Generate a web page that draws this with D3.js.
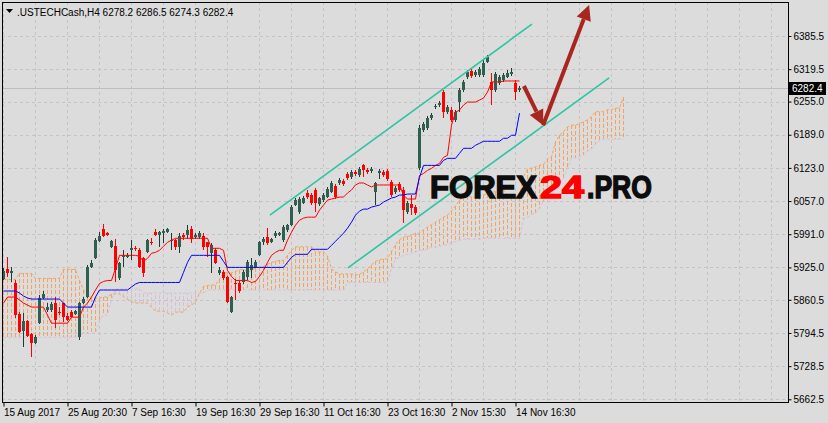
<!DOCTYPE html>
<html>
<head>
<meta charset="utf-8">
<script src="https://cdn.jsdelivr.net/npm/d3@7"></script>
<style>
  body { margin: 0; background: #dcdcdc; }
  svg { display: block; font-family: "Liberation Sans", Arial, sans-serif; }
</style>
</head>
<body>
<script>
// ---- chart data ----
var symbol = ".USTECHCash,H4";
var lastQuote = [6278.2, 6286.5, 6274.3, 6282.4];

var priceTicks = [6385.5, 6319.5, 6255.0, 6189.0, 6123.0, 6057.0, 5991.0, 5925.0, 5860.5, 5794.5, 5728.5, 5662.5];
var dateLabels = ["15 Aug 2017", "25 Aug 20:30", "7 Sep 16:30", "19 Sep 16:30", "29 Sep 16:30",
                  "11 Oct 16:30", "23 Oct 16:30", "2 Nov 15:30", "14 Nov 16:30"];

var opens = [5902,5922,5914,5894,5832,5798,5818,5792,5774,5814,5864,5840,5840,5854,5836,5854,5828,5836,5832,5786,
  5854,5866,5926,5944,5978,6001,5993,5966,5968,5904,5946,5946,5960,5964,5960,5944,5956,5976,5995,5989,
  5993,5995,5978,5980,5966,5989,5989,6001,5985,5985,5987,5976,5954,5960,5914,5916,5906,5836,5894,5894,
  5896,5906,5920,5926,5950,5976,5986,5976,5988,5990,5980,5999,6009,6049,6035,6053,6073,6069,6079,6051,
  6059,6065,6075,6087,6093,6097,6111,6105,6115,6109,6129,6119,6117,6075,6113,6115,6117,6095,6075,6091,
  6079,6035,6051,6045,6123,6198,6202,6222,6244,6248,6274,6234,6238,6218,6254,6278,6304,6316,6308,6308,
  6308,6334,6294,6278,6292,6298,6304,6310,6292,6278.2];
var highs = [5924,5946,5926,5900,5836,5834,5820,5794,5790,5870,5878,5854,5856,5866,5846,5854,5834,5840,5840,5856,
  5866,5930,5940,5984,5996,6011,5995,5980,5982,5936,5960,5954,5980,5968,5964,5946,5982,5984,6001,5997,
  6001,6003,5993,5982,5993,5993,6009,6007,5993,5997,5993,5976,5974,5964,5926,5920,5908,5868,5902,5900,
  5920,5940,5944,5940,5978,5986,6003,5984,5998,5996,6010,6011,6049,6063,6065,6067,6079,6073,6083,6065,
  6073,6085,6097,6091,6103,6101,6115,6119,6119,6125,6131,6123,6125,6095,6121,6119,6121,6099,6087,6095,
  6085,6057,6069,6049,6208,6214,6226,6232,6250,6256,6278,6248,6244,6238,6282,6298,6318,6320,6318,6324,
  6338,6348,6312,6314,6308,6312,6318,6322,6298,6286.5];
var lows = [5900,5906,5896,5824,5794,5767,5786,5747,5773,5812,5862,5836,5836,5804,5830,5816,5818,5824,5830,5780,
  5852,5864,5924,5942,5976,5986,5987,5964,5896,5900,5926,5944,5940,5958,5924,5906,5954,5970,5987,5966,
  5974,5993,5960,5960,5954,5980,5982,5974,5982,5982,5960,5946,5914,5932,5910,5900,5854,5834,5860,5874,
  5892,5900,5904,5924,5948,5970,5970,5974,5984,5988,5976,5995,6007,6047,6031,6051,6061,6049,6035,6047,
  6055,6063,6073,6061,6089,6087,6099,6101,6107,6105,6105,6111,6113,6049,6101,6105,6097,6065,6071,6075,
  6013,6031,6029,6029,6119,6194,6198,6218,6240,6244,6222,6230,6214,6214,6234,6274,6300,6302,6304,6304,
  6304,6332,6248,6274,6288,6294,6302,6306,6258,6274.3];
var closes = [5918,5914,5918,5830,5796,5818,5788,5774,5786,5864,5872,5846,5852,5820,5834,5826,5820,5826,5838,5854,
  5862,5926,5934,5980,5988,5988,5989,5978,5920,5934,5950,5950,5964,5962,5926,5914,5980,5974,5989,5995,
  5997,6001,5980,5966,5987,5985,5999,5982,5989,5993,5966,5966,5970,5934,5920,5904,5856,5866,5892,5878,
  5916,5936,5930,5936,5976,5982,5974,5982,5994,5994,6006,6009,6045,6059,6061,6063,6065,6053,6053,6063,
  6069,6081,6093,6065,6099,6091,6103,6115,6111,6121,6119,6115,6121,6093,6117,6109,6101,6069,6083,6079,
  6039,6053,6043,6033,6202,6210,6222,6228,6246,6252,6234,6244,6218,6234,6278,6294,6314,6306,6314,6320,
  6332,6344,6278,6310,6304,6308,6312,6314,6274,6282.4];

// Ichimoku lines as seen on the chart
var tenkan = [5854,5866,5866,5866,5860,5854,5850,5846,5846,5846,5846,5830,5814,5814,5814,5814,5814,5826,5826,5826,
  5846,5854,5866,5880,5893,5897,5899,5899,5923,5949,5949,5949,5949,5949,5947,5937,5943,5953,5955,5959,
  5967,5975,5979,5983,5983,5983,5983,5983,5983,5983,5983,5983,5963,5963,5963,5959,5919,5907,5899,5899,
  5899,5899,5895,5897,5907,5919,5935,5949,5955,5959,5959,5979,5995,6009,6019,6023,6025,6025,6025,6039,
  6049,6059,6061,6063,6065,6065,6073,6079,6089,6093,6093,6089,6085,6089,6089,6089,6089,6089,6089,6089,
  6069,6061,6061,6061,6108,6112,6118,6122,6128,6132,6144,6148,6208,6234,6238,6248,6254,6254,6254,6258,
  6262,6274,6294,6294,6294,6296,6296,6296,6296,6296];
var kijun = [5878,5878,5878,5878,5874,5868,5864,5862,5862,5862,5862,5862,5862,5862,5862,5854,5846,5846,5846,5846,
  5846,5846,5846,5866,5880,5880,5880,5880,5880,5880,5880,5880,5886,5892,5895,5895,5895,5895,5895,5895,
  5895,5895,5895,5895,5895,5915,5935,5949,5949,5949,5949,5949,5949,5949,5949,5937,5925,5925,5925,5925,
  5925,5925,5925,5925,5925,5925,5925,5925,5925,5925,5925,5935,5945,5951,5951,5951,5951,5961,5961,5961,
  5961,5961,5969,5977,5985,5993,6003,6015,6029,6037,6041,6041,6045,6047,6049,6055,6059,6063,6065,6069,
  6069,6071,6071,6071,6104,6128,6128,6128,6128,6128,6138,6142,6142,6142,6152,6162,6162,6162,6168,6172,
  6176,6176,6176,6176,6176,6182,6182,6188,6188,6232];
var spanA = [5901,5901,5901,5901,5913,5913,5913,5913,5903,5903,5903,5903,5903,5903,5903,5921,5921,5921,5921,5899,
  5880,5868,5864,5864,5864,5866,5866,5872,5872,5872,5867,5861,5857,5854,5854,5854,5854,5846,5838,5838,
  5838,5834,5830,5836,5836,5836,5846,5850,5856,5873,5887,5889,5890,5890,5901,5914,5914,5914,5917,5920,
  5921,5916,5919,5924,5925,5927,5931,5935,5937,5939,5939,5949,5959,5966,5966,5966,5966,5966,5956,5956,
  5956,5948,5922,5916,5912,5912,5912,5912,5910,5911,5916,5922,5930,5937,5940,5942,5942,5957,5970,5980,
  5985,5987,5988,5993,5993,6000,6005,6010,6015,6020,6025,6029,6038,6047,6059,6065,6067,6065,6065,6068,
  6069,6072,6074,6076,6077,6079,6069,6066,6066,6066,6106,6120,6123,6125,6128,6130,6141,6145,6175,6188,
  6195,6205,6208,6208,6211,6215,6219,6225,6235,6235,6235,6239,6239,6242,6242,6264];
var spanB = [5786,5786,5786,5786,5786,5786,5786,5786,5786,5786,5786,5786,5786,5786,5786,5786,5786,5786,5786,5786,
  5794,5794,5794,5794,5820,5830,5830,5860,5882,5882,5882,5882,5882,5882,5882,5874,5874,5874,5874,5874,
  5874,5874,5874,5874,5874,5874,5874,5874,5874,5874,5874,5880,5880,5880,5880,5880,5880,5880,5880,5880,
  5880,5880,5880,5880,5880,5880,5880,5880,5880,5880,5880,5880,5880,5880,5880,5880,5880,5880,5880,5880,
  5880,5880,5880,5880,5880,5880,5895,5895,5895,5895,5895,5895,5895,5895,5895,5895,5895,5923,5941,5945,
  5949,5951,5953,5955,5959,5959,5961,5965,5965,5967,5969,5971,5973,5977,5979,5981,5981,5981,5981,5981,
  5983,5983,5983,5983,5983,5983,5983,5983,5983,5983,6021,6025,6030,6033,6042,6058,6077,6085,6089,6091,
  6103,6122,6143,6143,6146,6149,6156,6161,6171,6177,6180,6180,6180,6180,6180,6180];

// hand-drawn objects, in bar index / price units
var channel = [
  {b1: 66.6, p1: 6029, b2: 132.1, p2: 6409},
  {b1: 86.1, p1: 5924, b2: 151.4, p2: 6302}
];
var arrows = [
  {b1: 130.1, p1: 6286, b2: 134.9, p2: 6208},
  {b1: 134.9, p1: 6208, b2: 146.4, p2: 6447}
];
var watermark = [
  {text: "FOREX", color: "#0d0d0d", x: 430, w: 107},
  {text: "24", color: "#ff0000", x: 540, w: 44},
  {text: ".PRO", color: "#0d0d0d", x: 587, w: 65}
];

// ---- layout ----
var W = 828, H = 423;
var plot = {left: 2, top: 2, right: 788, bottom: 402};

var x = d3.scaleLinear().domain([0, 155]).range([3.5, 623.5]);
var y = d3.scaleLinear().domain([5662.5, 6385.5]).range([399.3, 36]);

var svg = d3.select("body").append("svg")
    .attr("width", W)
    .attr("height", H);

svg.append("rect").attr("width", W).attr("height", H).attr("fill", "#dcdcdc");

svg.append("clipPath").attr("id", "plotclip")
  .append("rect")
    .attr("x", plot.left).attr("y", plot.top)
    .attr("width", plot.right - plot.left).attr("height", plot.bottom - plot.top);

var g = svg.append("g").attr("clip-path", "url(#plotclip)");

// grid
var gridX = d3.range(0, 200, 8).filter(function(b) { return x(b) < plot.right; });
g.append("g").attr("shape-rendering", "crispEdges").selectAll("line")
  .data(gridX)
  .enter().append("line")
    .attr("x1", function(d) { return x(d); })
    .attr("x2", function(d) { return x(d); })
    .attr("y1", plot.top).attr("y2", plot.bottom)
    .attr("stroke", "#c4c4c4")
    .attr("stroke-dasharray", "3,3");

g.append("g").attr("shape-rendering", "crispEdges").selectAll("line")
  .data(priceTicks)
  .enter().append("line")
    .attr("x1", plot.left).attr("x2", plot.right)
    .attr("y1", function(d) { return Math.round(y(d)) + 0.5; })
    .attr("y2", function(d) { return Math.round(y(d)) + 0.5; })
    .attr("stroke", "#c4c4c4")
    .attr("stroke-dasharray", "3,3");

// current price line
g.append("line")
    .attr("x1", plot.left).attr("x2", plot.right)
    .attr("y1", Math.round(y(lastQuote[3])) + 0.5)
    .attr("y2", Math.round(y(lastQuote[3])) + 0.5)
    .attr("stroke", "#bdbdbd");

// cloud hatching
var upColor = "#f4a460", downColor = "#d8bfd8";
g.append("g").attr("shape-rendering", "crispEdges").selectAll("line")
  .data(spanA)
  .enter().append("line")
    .attr("x1", function(d, i) { return x(i); })
    .attr("x2", function(d, i) { return x(i); })
    .attr("y1", function(d) { return Math.round(y(d)); })
    .attr("y2", function(d, i) { return Math.round(y(spanB[i])); })
    .attr("stroke", function(d, i) { return d >= spanB[i] ? upColor : downColor; })
    .attr("stroke-dasharray", "4,2");

var line = d3.line()
    .x(function(d, i) { return x(i); })
    .y(function(d) { return y(d); });

g.append("path").datum(spanA)
    .attr("d", line).attr("fill", "none")
    .attr("stroke", upColor).attr("stroke-dasharray", "3,2");
g.append("path").datum(spanB)
    .attr("d", line).attr("fill", "none")
    .attr("stroke", downColor).attr("stroke-dasharray", "3,2");

// candles
var bars = opens.map(function(o, i) {
  return {i: i, o: o, h: highs[i], l: lows[i], c: closes[i]};
});
var candle = g.append("g").attr("shape-rendering", "crispEdges").selectAll("g")
  .data(bars)
  .enter().append("g");

candle.append("line")
    .attr("x1", function(d) { return x(d.i); })
    .attr("x2", function(d) { return x(d.i); })
    .attr("y1", function(d) { return y(d.h); })
    .attr("y2", function(d) { return y(d.l); })
    .attr("stroke", function(d) { return d.c >= d.o ? "#1e3c34" : "#ff0000"; });

candle.append("rect")
    .attr("x", function(d) { return x(d.i) - 1.5; })
    .attr("width", 3)
    .attr("y", function(d) { return y(Math.max(d.o, d.c)); })
    .attr("height", function(d) { return Math.max(1, y(Math.min(d.o, d.c)) - y(Math.max(d.o, d.c))); })
    .attr("fill", function(d) { return d.c >= d.o ? "#2f5f4f" : "#ff0000"; });

// tenkan / kijun
g.append("path").datum(tenkan)
    .attr("d", line).attr("fill", "none").attr("stroke", "#ff0000");
g.append("path").datum(kijun)
    .attr("d", line).attr("fill", "none").attr("stroke", "#0000ff");

// channel
g.append("g").selectAll("line")
  .data(channel)
  .enter().append("line")
    .attr("x1", function(d) { return x(d.b1); })
    .attr("y1", function(d) { return y(d.p1); })
    .attr("x2", function(d) { return x(d.b2); })
    .attr("y2", function(d) { return y(d.p2); })
    .attr("stroke", "#2ec4a4")
    .attr("stroke-width", 1.6);

// watermark
g.append("g").selectAll("text")
  .data(watermark)
  .enter().append("text")
    .attr("x", function(d) { return d.x; })
    .attr("y", 198)
    .attr("font-family", "'Liberation Sans', Arial, sans-serif")
    .attr("font-weight", "bold")
    .attr("font-size", 31)
    .attr("textLength", function(d) { return d.w; })
    .attr("lengthAdjust", "spacingAndGlyphs")
    .attr("fill", function(d) { return d.color; })
    .attr("stroke", function(d) { return d.color; })
    .attr("stroke-width", 1.4)
    .text(function(d) { return d.text; });

// arrows
var arrowColor = "#a8261e";
arrows.forEach(function(a) {
  var x1 = x(a.b1), y1 = y(a.p1), x2 = x(a.b2), y2 = y(a.p2);
  var len = Math.hypot(x2 - x1, y2 - y1), ux = (x2 - x1) / len, uy = (y2 - y1) / len;
  var hl = 15, hw = 7.5;
  var bx = x2 - ux * hl, by = y2 - uy * hl;
  g.append("line")
      .attr("x1", x1).attr("y1", y1).attr("x2", bx).attr("y2", by)
      .attr("stroke", arrowColor).attr("stroke-width", 4);
  g.append("path")
      .attr("d", "M" + x2 + "," + y2 +
                 "L" + (bx - uy * hw) + "," + (by + ux * hw) +
                 "L" + (bx + uy * hw) + "," + (by - ux * hw) + "Z")
      .attr("fill", arrowColor);
});

// frame
svg.append("rect")
    .attr("x", plot.left + 0.5).attr("y", plot.top + 0.5)
    .attr("width", plot.right - plot.left).attr("height", plot.bottom - plot.top)
    .attr("fill", "none").attr("stroke", "#000");

// price axis
var yAxis = d3.axisRight(y).tickValues(priceTicks).tickSize(3).tickPadding(2)
    .tickFormat(d3.format(".1f"));
var ya = svg.append("g")
    .attr("transform", "translate(" + (plot.right + 0.5) + ",0)")
    .call(yAxis);
ya.select(".domain").remove();
ya.selectAll(".tick line").attr("stroke", "#000");
ya.selectAll(".tick text").attr("font-family", "'Liberation Sans', Arial, sans-serif")
    .attr("font-size", 10).attr("fill", "#000");

// current price label
svg.append("rect")
    .attr("x", 789).attr("y", Math.round(y(lastQuote[3])) - 6)
    .attr("width", 37).attr("height", 13).attr("fill", "#000");
svg.append("text")
    .attr("x", 792).attr("y", Math.round(y(lastQuote[3])) + 4)
    .attr("font-size", 10).attr("fill", "#fff")
    .text(d3.format(".1f")(lastQuote[3]));

// time axis
var dateBars = dateLabels.map(function(d, i) { return i * 16; });
var xAxis = d3.axisBottom(x).tickValues(dateBars).tickSize(4).tickPadding(2)
    .tickFormat(function(d, i) { return dateLabels[i]; });
var xa = svg.append("g")
    .attr("transform", "translate(0," + (plot.bottom + 0.5) + ")")
    .call(xAxis);
xa.select(".domain").remove();
xa.selectAll(".tick line").attr("stroke", "#000");
xa.selectAll(".tick text").attr("text-anchor", "start")
    .attr("font-family", "'Liberation Sans', Arial, sans-serif")
    .attr("font-size", 10).attr("fill", "#000");

// title
svg.append("path").attr("d", "M6,9 L13,9 L9.5,13 Z").attr("fill", "#000");
svg.append("text")
    .attr("x", 17).attr("y", 16)
    .attr("font-size", 10).attr("fill", "#000")
    .text(symbol + "  " + lastQuote.map(d3.format(".1f")).join(" "));
</script>
</body>
</html>
